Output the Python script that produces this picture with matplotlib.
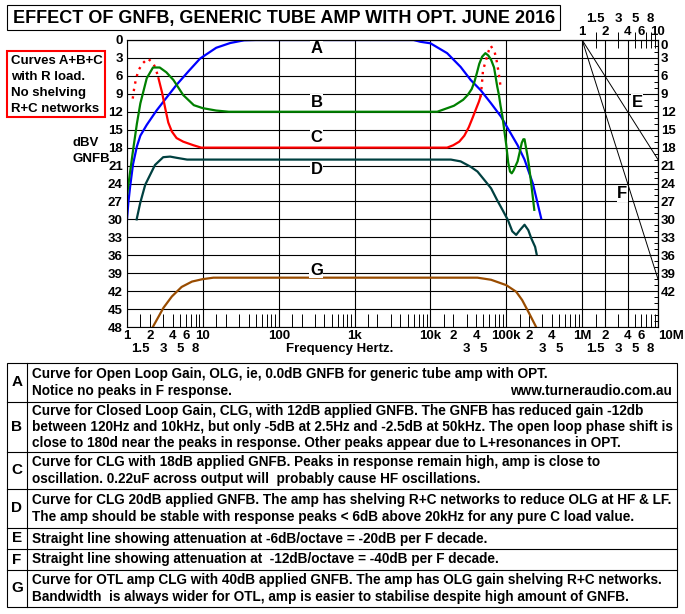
import matplotlib
matplotlib.use("Agg")
import matplotlib.pyplot as plt
from matplotlib import transforms, font_manager
from matplotlib.patches import Rectangle
from matplotlib.lines import Line2D
from matplotlib.ticker import FixedLocator, NullFormatter

# values: frequency in Hz, level in dB (0 at top)
a_freq = [1, 1.04, 1.1, 1.2, 1.35, 1.5, 1.82, 2.45, 3.2, 4.5, 6.5, 9.2, 15, 23, 35, 50,
          6000, 7400, 10000, 16600, 25000, 34000, 46000, 63000, 85000, 105000, 141000,
          174000, 224000, 288000]
a_db = [30, 27.3, 24.5, 20.8, 17.8, 16.0, 14.2, 11.8, 9.9, 7.5, 5.2, 3.1, 1.3, 0.5, 0.05, 0,
        0, 0.3, 0.55, 2.2, 4.5, 6.7, 8.4, 10.6, 12.8, 14.8, 17.6, 20, 24, 29.8]

b_freq = [1, 1.1, 1.2, 1.35, 1.5, 1.82, 2.2, 2.7, 3.3, 4.1, 5.5, 7.6, 10, 15, 22,
          12300, 20400, 27000, 31000, 35000, 38000, 41000, 44000, 48000, 53000, 58000,
          63000, 69000, 76000, 80000, 84000, 89000, 95000, 100000, 106000, 112000, 118000,
          125000, 133000, 141000, 150000, 160000, 168000, 174000, 182000, 191000, 200000,
          214000, 234000]
b_db = [26, 22, 18.5, 14, 10.6, 6.4, 4.6, 4.6, 5.4, 6.7, 9.2, 10.9, 11.4, 11.8, 12,
        12, 11.0, 10.0, 9.2, 8.2, 7.0, 5.5, 4.0, 2.8, 2.2, 2.6,
        3.3, 4.6, 7.8, 9.2, 11.0, 12.8, 15.5, 17.6, 20.5, 22.0, 22.3,
        21.8, 21.0, 20.3, 18.8, 17.2, 16.6, 16.6, 18.0, 19.5, 21.2,
        24.2, 28.4]

c_freq = [2.6, 2.9, 3.2, 3.5, 3.9, 4.5, 5.5, 7.5, 9.5, 16600, 20000, 24000, 28000, 32000,
          36000, 40000, 43600, 45700]
c_db = [6.4, 8.8, 11.5, 13.8, 15.3, 16.4, 17.0, 17.6, 18.0, 18.0, 17.6, 17.0, 16.0, 14.6,
        13.0, 11.5, 10.3, 9.5]
c_low_freq = [1.19, 1.24, 1.3, 1.41, 1.61, 1.88, 2.19, 2.38, 2.6]
c_low_db = [9.8, 8.2, 6.8, 5.1, 3.9, 3.1, 3.8, 4.7, 6.4]
c_high_freq = [45700, 47400, 49300, 52500, 58700, 62400, 70500, 75000, 78000, 82000, 84500]
c_high_db = [9.5, 7.8, 5.1, 3.9, 1.8, 0.95, 2.1, 3.6, 4.9, 6.7, 8.1]

d_freq = [1.34, 1.49, 1.74, 2.34, 3.0, 3.7, 4.5, 6.2, 18600, 25000, 33900, 41700, 51300,
          63000, 75900, 89000, 105000, 120000, 135000, 151000, 174000, 195000, 214000,
          240000, 251000]
d_db = [30, 27.3, 24.2, 20.9, 19.6, 19.5, 19.7, 20, 20, 20.3, 21.2, 22, 23.4,
        24.8, 26.8, 28.4, 30.1, 32.0, 32.6, 31.8, 30.9, 31.8, 33.2,
        34.6, 35.8]

e_freq = [1e6, 1e7]
e_db = [0, 20]
f_freq = [1e6, 1e7]
f_db = [0, 40]

g_freq = [2.19, 3.02, 3.9, 5.25, 7.2, 9.9, 13.8, 41700, 63000, 100000, 135000, 162000,
          200000, 245000]
g_db = [48, 44.8, 42.9, 41.3, 40.4, 40.0, 39.75, 39.75, 40.1, 41.0, 42.1, 43.5,
        45.7, 47.9]

curve_letters = ["A", "B", "C", "D", "G", "E", "F"]
letter_freq = [314, 314, 314, 314, 314, 5.3e6, 3.36e6]
letter_db = [1.5, 10.45, 16.3, 21.7, 38.5, 10.45, 25.75]

left_db_ticks = list(range(0, 49, 3))
right_db_ticks = list(range(0, 43, 3))

row1_freq = [1, 2, 4, 6, 10, 100, 1e3, 1e4, 2e4, 4e4, 1e5, 2e5, 4e5, 1e6, 2e6, 4e6, 6e6]
row1_text = ["1", "2", "4", "6", "10", "100", "1k", "10k", "2", "4", "100k", "2", "4",
             "1M", "2", "4", "6"]
row2_freq = [1.5, 3, 5, 8, 3e4, 5e4, 3e5, 5e5, 1.5e6, 3e6, 5e6, 8e6]
row2_text = ["1.5", "3", "5", "8", "3", "5", "3", "5", "1.5", "3", "5", "8"]
top_low_freq = [1e6, 2e6, 4e6, 6e6, 1e7]
top_low_text = ["1", "2", "4", "6", "10"]
top_high_freq = [1.5e6, 3e6, 5e6, 8e6]
top_high_text = ["1.5", "3", "5", "8"]

title = "EFFECT OF GNFB, GENERIC TUBE AMP WITH OPT. JUNE 2016"
box_lines = ["Curves A+B+C", "with R load.", "No shelving", "R+C networks"]

note_letters = ["A", "B", "C", "D", "E", "F", "G"]
note_texts = [
    ["Curve for Open Loop Gain, OLG, ie, 0.0dB GNFB for generic tube amp with OPT.",
     "Notice no peaks in F response."],
    ["Curve for Closed Loop Gain, CLG, with 12dB applied GNFB. The GNFB has reduced gain -12db",
     "between 120Hz and 10kHz, but only -5dB at 2.5Hz and -2.5dB at 50kHz. The open loop phase shift is",
     "close to 180d near the peaks in response. Other peaks appear due to L+resonances in OPT."],
    ["Curve for CLG with 18dB applied GNFB. Peaks in response remain high, amp is close to",
     "oscillation. 0.22uF across output will  probably cause HF oscillations."],
    ["Curve for CLG 20dB applied GNFB. The amp has shelving R+C networks to reduce OLG at HF & LF.",
     "The amp should be stable with response peaks < 6dB above 20kHz for any pure C load value."],
    ["Straight line showing attenuation at -6dB/octave = -20dB per F decade."],
    ["Straight line showing attenuation at  -12dB/octave = -40dB per F decade."],
    ["Curve for OTL amp CLG with 40dB applied GNFB. The amp has OLG gain shelving R+C networks.",
     "Bandwidth  is always wider for OTL, amp is easier to stabilise despite high amount of GNFB."],
]
row_edges = [363, 402, 452, 489, 528, 549, 570, 607]

W, H = 685, 614
plt.rcParams['font.family'] = ['Liberation Sans', 'DejaVu Sans']
installed = {f.name for f in font_manager.fontManager.ttflist}
if 'Liberation Sans Narrow' in installed:
    note_font, note_size = ['Liberation Sans Narrow', 'DejaVu Sans'], 11.2
else:
    note_font, note_size = ['Liberation Sans', 'DejaVu Sans'], 9.8

fig = plt.figure(figsize=(W / 100, H / 100), dpi=100)
pix = transforms.Affine2D().scale(1 / W, -1 / H).translate(0, 1) + fig.transFigure

# main grid
x0, x1, y0, y1 = 127, 658, 40, 327
ax = fig.add_axes([x0 / W, 1 - y1 / H, (x1 - x0) / W, (y1 - y0) / H])
ax.set_xscale('log')
ax.set_xlim(1, 1e7)
ax.set_ylim(48, 0)
ax.set_xticks([1, 10, 100, 1e3, 1e4, 1e5, 1e6, 2e6, 4e6, 1e7])
ax.xaxis.set_major_formatter(NullFormatter())
minors = [m * 10 ** k for k in range(7) for m in (1.5, 2, 3, 4, 5, 6, 7, 8, 9)]
ax.xaxis.set_minor_locator(FixedLocator(minors))
ax.xaxis.set_minor_formatter(NullFormatter())
ax.set_yticks(left_db_ticks)
ax.yaxis.set_minor_locator(FixedLocator([]))
ax.grid(True, which='major', color='black', lw=0.8)
ax.set_axisbelow(True)
ax.tick_params(which='major', length=0)
ax.tick_params(axis='y', labelsize=9.5, pad=3)
ax.tick_params(axis='x', which='minor', direction='in', length=9.4, width=0.7,
               top=False, bottom=True, color='black')
for lab in ax.get_yticklabels():
    lab.set_fontweight('bold')
for sp in ax.spines.values():
    sp.set_color('black')
    sp.set_linewidth(0.8)

right = ax.secondary_yaxis('right')
right.set_yticks(right_db_ticks)
right.yaxis.set_minor_locator(FixedLocator([v for v in range(0, 48) if v % 3]))
right.tick_params(which='major', length=0, labelsize=9.5, pad=2)
right.tick_params(which='minor', direction='in', length=3, width=0.7)
for lab in right.get_yticklabels():
    lab.set_fontweight('bold')
right.get_yticklabels()[0].set_verticalalignment('top')

top = ax.secondary_xaxis('top')
top.set_xticks([1.5e6, 3e6, 5e6, 7e6, 8e6, 9e6])
top.xaxis.set_minor_locator(FixedLocator([6e6]))
top.xaxis.set_major_formatter(NullFormatter())
top.xaxis.set_minor_formatter(NullFormatter())
top.tick_params(which='major', direction='inout', length=11.5, width=0.7)
top.tick_params(which='minor', direction='in', length=5.8, width=0.7)

# curves
lw = 1.6
ax.plot(a_freq, a_db, color='#0000ff', lw=lw)
ax.plot(g_freq, g_db, color='#994c00', lw=lw)
ax.plot(d_freq, d_db, color='#004040', lw=lw)
ax.plot(c_freq, c_db, color='#ff0000', lw=lw)
ax.plot(c_low_freq, c_low_db, color='#ff0000', lw=1.7, ls=(0, (1, 2.2)))
ax.plot(c_high_freq, c_high_db, color='#ff0000', lw=1.7, ls=(0, (1, 2.2)))
ax.plot(b_freq, b_db, color='#008000', lw=lw)
ax.plot(e_freq, e_db, color='black', lw=0.7)
ax.plot(f_freq, f_db, color='black', lw=0.7)

for s, fx, dbv in zip(curve_letters, letter_freq, letter_db):
    ax.text(fx, dbv, s, ha='center', va='center', fontsize=12, fontweight='bold',
            bbox=dict(fc='white', ec='none', pad=0.4), zorder=5)

# frequency labels below and above the grid
bx = transforms.blended_transform_factory(ax.transData, pix)
for fx, s in zip(row1_freq, row1_text):
    ax.text(fx, 336, s, transform=bx, ha='center', va='center', fontsize=9.5,
            fontweight='bold', clip_on=False)
ax.text(1e7, 336, "10M", transform=bx, ha='left', va='center', fontsize=9.5,
        fontweight='bold', clip_on=False)
for fx, s in zip(row2_freq, row2_text):
    ax.text(fx, 349, s, transform=bx, ha='center', va='center', fontsize=9.5,
            fontweight='bold', clip_on=False)
for fx, s in zip(top_low_freq, top_low_text):
    ax.text(fx, 32, s, transform=bx, ha='center', va='center', fontsize=9.5,
            fontweight='bold', clip_on=False)
for fx, s in zip(top_high_freq, top_high_text):
    ax.text(fx, 19, s, transform=bx, ha='center', va='center', fontsize=9.5,
            fontweight='bold', clip_on=False)

fig.text(340, 349, "Frequency Hertz.", transform=pix, ha='center', va='center',
         fontsize=9.5, fontweight='bold')
fig.text(73, 143, "dBV", transform=pix, ha='left', va='center', fontsize=9.5,
         fontweight='bold')
fig.text(73, 159, "GNFB", transform=pix, ha='left', va='center', fontsize=9.5,
         fontweight='bold')

# title
fig.add_artist(Rectangle((7, 5), 553, 25, transform=pix, fill=False, ec='black', lw=0.8))
fig.text(13, 18, title, transform=pix, ha='left', va='center', fontsize=13,
         fontweight='bold')

# red note box
fig.add_artist(Rectangle((7, 51), 98, 66, transform=pix, fill=False, ec='#ff0000', lw=1.5))
for i, s in enumerate(box_lines):
    fig.text(11, 61 + 15.9 * i, s, transform=pix, ha='left', va='center', fontsize=9.5,
             fontweight='bold')

# notes table
fig.add_artist(Rectangle((7, row_edges[0]), 670, row_edges[-1] - row_edges[0],
                         transform=pix, fill=False, ec='black', lw=0.8))
fig.add_artist(Line2D([27, 27], [row_edges[0], row_edges[-1]], transform=pix,
                      color='black', lw=0.8))
for yy in row_edges[1:-1]:
    fig.add_artist(Line2D([7, 677], [yy, yy], transform=pix, color='black', lw=0.8))
for i, (letter, lines) in enumerate(zip(note_letters, note_texts)):
    mid = (row_edges[i] + row_edges[i + 1]) / 2
    fig.text(17, mid, letter, transform=pix, ha='center', va='center', fontsize=11,
             fontweight='bold')
    start = mid - (len(lines) - 1) * 16.5 / 2
    for j, s in enumerate(lines):
        fig.text(32, start + 16.5 * j, s, transform=pix, ha='left', va='center',
                 fontsize=note_size, family=note_font, fontweight='bold')
fig.text(672, (row_edges[0] + row_edges[1]) / 2 + 8.25, "www.turneraudio.com.au",
         transform=pix, ha='right', va='center', fontsize=note_size, family=note_font,
         fontweight='bold')

fig.savefig("out.png", dpi=100, facecolor='white')
